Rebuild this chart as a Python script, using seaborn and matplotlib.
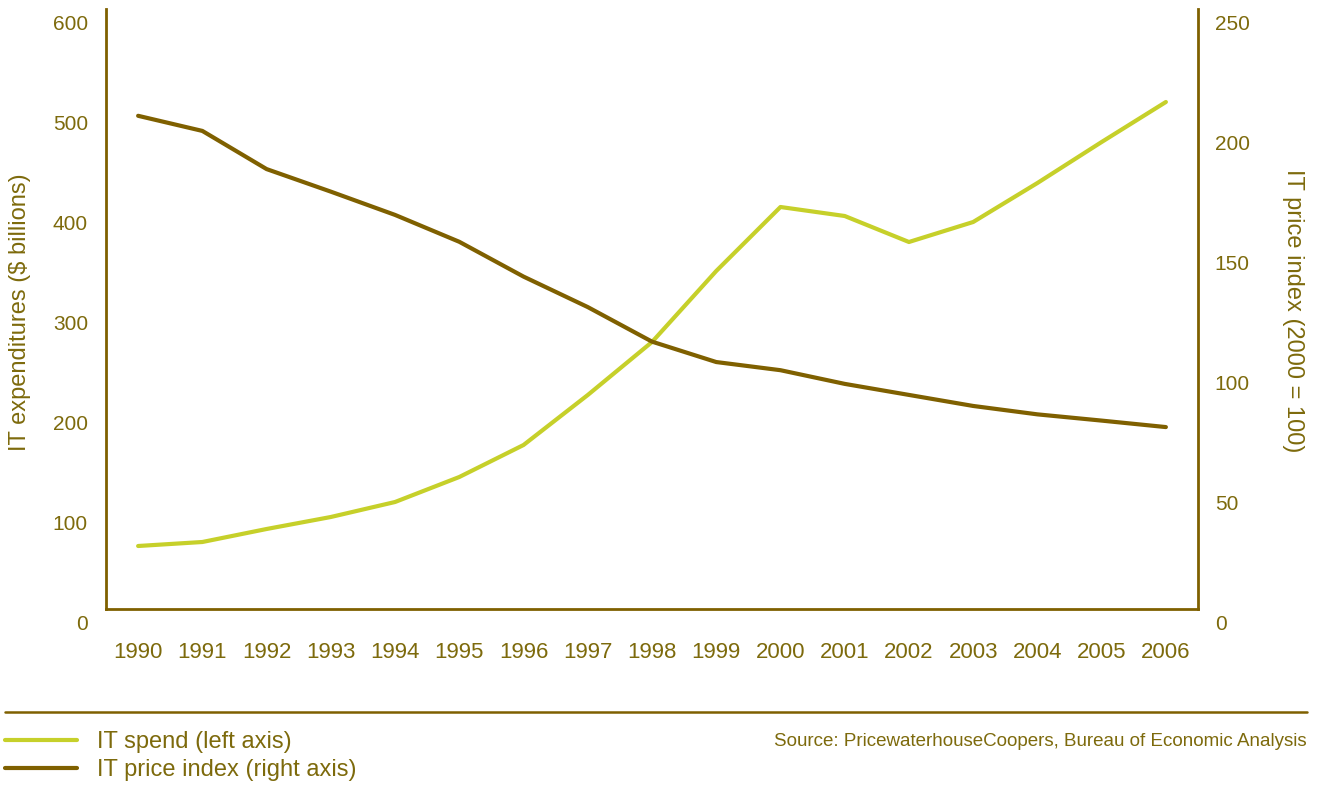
import matplotlib
matplotlib.use("Agg")
import matplotlib.pyplot as plt
import matplotlib.transforms as mtransforms
from matplotlib.lines import Line2D
import pandas as pd
import seaborn as sns

# Data
years = list(range(1990, 2007))
it_spend = [63, 67, 80, 92, 107, 132, 164, 214, 267, 338, 402, 393, 367, 387, 426, 467, 507]
price_index = [205.5, 199.2, 183.3, 173.9, 164.2, 153.0, 138.5, 125.8, 111.4, 102.9,
               99.5, 93.8, 89.2, 84.6, 81.1, 78.5, 75.8]
left_ticks = [0, 100, 200, 300, 400, 500, 600]
right_ticks = [0, 50, 100, 150, 200, 250]
spend_label = "IT spend (left axis)"
index_label = "IT price index (right axis)"
source_text = "Source: PricewaterhouseCoopers, Bureau of Economic Analysis"

df = pd.DataFrame({"year": years, "spend": it_spend, "index": price_index})

BROWN = "#7f6000"
LIME = "#c6d02a"
TEXT = "#7d6a0c"

sns.set_theme(style="white")
plt.rcParams["font.family"] = ["Liberation Sans", "DejaVu Sans"]
plt.rcParams["text.color"] = TEXT
plt.rcParams["axes.labelcolor"] = TEXT
plt.rcParams["xtick.color"] = TEXT
plt.rcParams["ytick.color"] = TEXT

W, H = 1323, 787
fig = plt.figure(figsize=(W / 100, H / 100), dpi=100)
ax = fig.add_axes([106 / W, 1 - 609 / H, (1198 - 106) / W, (609 - 9) / H])
ax2 = ax.twinx()

sns.lineplot(data=df, x="year", y="spend", ax=ax, color=LIME, lw=3.0,
             solid_capstyle="round", legend=False)
sns.lineplot(data=df, x="year", y="index", ax=ax2, color=BROWN, lw=3.0,
             solid_capstyle="round", legend=False)

ax.set_xlim(1989.5, 2006.5)
ax.set_ylim(0, 600)
ax2.set_ylim(0, 250)
ax.set_xticks(years)
ax.set_xticklabels([str(y) for y in years])
ax.set_yticks(left_ticks)
ax2.set_yticks(right_ticks)

ax.tick_params(axis="x", length=0, pad=24, labelsize=16)
ax.tick_params(axis="y", length=0, pad=13, labelsize=15)
ax2.tick_params(axis="y", length=0, pad=12, labelsize=15)

# y tick labels sit slightly below their tick positions
shift = mtransforms.ScaledTranslation(0, -0.13, fig.dpi_scale_trans)
for lab in ax.get_yticklabels() + ax2.get_yticklabels():
    lab.set_transform(lab.get_transform() + shift)

ax.set_xlabel("")
ax.set_ylabel("IT expenditures ($ billions)", fontsize=17, va="center")
ax.yaxis.set_label_coords((20 - 106) / 1092, 0.495)
ax2.set_ylabel("IT price index (2000 = 100)", fontsize=17, rotation=-90,
               va="center")
ax2.yaxis.set_label_coords((1293 - 106) / 1092, 0.497)

for a in (ax, ax2):
    for side in ("top", "left", "right", "bottom"):
        a.spines[side].set_visible(False)
ax.spines["left"].set_visible(True)
ax.spines["bottom"].set_visible(True)
ax2.spines["right"].set_visible(True)
for sp in (ax.spines["left"], ax.spines["bottom"], ax2.spines["right"]):
    sp.set_color(BROWN)
    sp.set_linewidth(2.0)
ax.grid(False)
ax2.grid(False)

# Rule above the legend
fig.add_artist(Line2D([5 / W, 1307 / W], [1 - 712 / H, 1 - 712 / H],
                      transform=fig.transFigure, color=BROWN, lw=1.8))

handles = [Line2D([], [], color=LIME, lw=3.0, solid_capstyle="round"),
           Line2D([], [], color=BROWN, lw=3.0, solid_capstyle="round")]
fig.legend(handles, [spend_label, index_label], loc="upper left",
           bbox_to_anchor=(5 / W, 1 - 731 / H), frameon=False, fontsize=17,
           handlelength=3.05, handletextpad=0.85, labelspacing=0.27,
           borderpad=0, borderaxespad=0)

fig.text(1307 / W, 1 - 741 / H, source_text, ha="right", va="center",
         fontsize=13.5, color=TEXT)

fig.savefig("out.png", dpi=100)
